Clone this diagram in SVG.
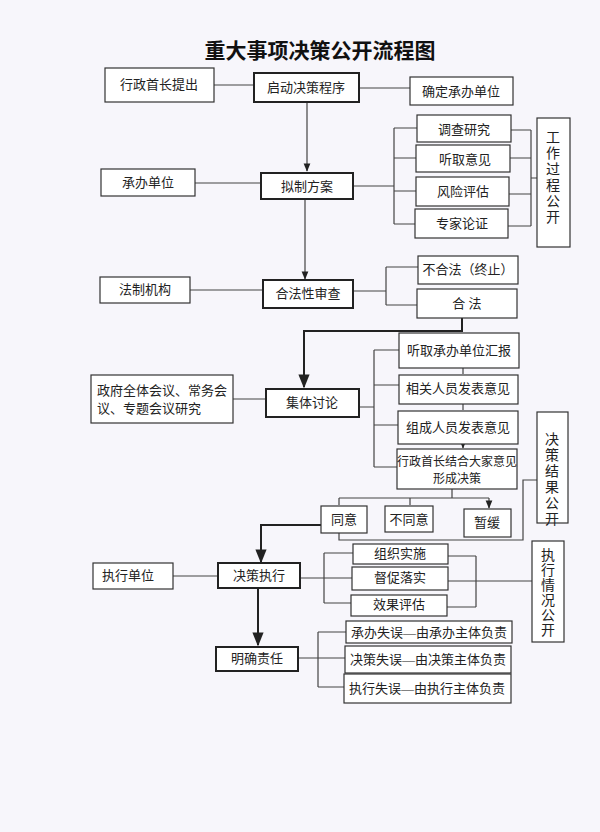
<svg xmlns="http://www.w3.org/2000/svg" width="600" height="832" viewBox="0 0 600 832">
<defs>
<style>
.b{fill:#fff;stroke:#333;stroke-width:1.2}
.k{fill:#fff;stroke:#222;stroke-width:2}
.t{font-family:"Liberation Serif","Noto Sans CJK SC",serif;font-size:13px;fill:#222;text-anchor:middle}
.s{font-family:"Liberation Serif","Noto Sans CJK SC",serif;font-size:12px;fill:#222;text-anchor:middle}
.v{font-family:"Liberation Serif","Noto Sans CJK SC",serif;font-size:14px;fill:#222;text-anchor:middle}
.l{fill:none;stroke:#444;stroke-width:1.2}
.h{fill:none;stroke:#222;stroke-width:2}
</style>
<marker id="a" viewBox="0 0 10 10" refX="9" refY="5" markerWidth="7" markerHeight="7" orient="auto"><path d="M0,1 L10,5 L0,9 z" fill="#222"/></marker>
</defs>
<rect width="600" height="832" fill="#f7f6fb"/>
<text x="320" y="58" font-family="'Noto Sans CJK SC',sans-serif" font-size="21" font-weight="bold" text-anchor="middle" fill="#111">重大事项决策公开流程图</text>
<g id="connectors">
<path class="l" d="M214,85 H254 M359,88 H410"/>
<path class="l" d="M307,102 V171" marker-end="url(#a)"/>
<path class="l" d="M195,183 H261 M353,186 H394 M394,128 V224 M394,128 H417 M394,158 H416 M394,191 H416 M394,224 H415"/>
<path class="l" d="M511,130 H531 M510,158 H531 M509,194 H531 M508,226 H531 M531,130 V226 M531,178 H537"/>
<path class="l" d="M305,199 V279" marker-end="url(#a)"/>
<path class="l" d="M190,290 H263 M353,291 H386 M386,267 V305 M386,267 H418 M386,305 H417"/>
<path class="h" d="M462,318 V331 H304 V387" marker-end="url(#a)"/>
<path class="l" d="M233,399 H266 M359,407 H374 M374,350 V467 M374,350 H399 M374,385 H399 M374,425 H398 M374,467 H397"/>
<path class="l" d="M463,368 V374 M463,404 V410 M463,444 V448" marker-end="url(#a)"/>
<path class="l" d="M452,489 V498 M339,498 H489"/>
<path class="l" d="M339,498 V505 M410,498 V505 M489,498 V508" marker-end="url(#a)"/>
<path class="l" d="M339,533 V540 H523 V480 H537"/>
<path class="h" d="M321,525 H261 V562" marker-end="url(#a)"/>
<path class="l" d="M173,576 H218 M300,578 H324 M324,553 V603 M324,553 H353 M324,578 H352 M324,603 H351 M448,556 H476 M447,607 H476 M476,556 V607 M448,581 H532"/>
<path class="h" d="M258,588 V645" marker-end="url(#a)"/>
<path class="l" d="M298,658 H345 M318,632 V687 M318,632 H346 M318,687 H344"/>
</g>
<g id="n1"><rect class="b" x="105" y="68" width="109" height="34"/><text class="t" x="159" y="89">行政首长提出</text></g>
<g id="n2"><rect class="k" x="254" y="73" width="105" height="29"/><text class="t" x="306" y="92">启动决策程序</text></g>
<g id="n3"><rect class="b" x="410" y="77" width="103" height="28"/><text class="t" x="461" y="96">确定承办单位</text></g>
<g id="n4"><rect class="b" x="101" y="169" width="94" height="27"/><text class="t" x="148" y="187">承办单位</text></g>
<g id="n5"><rect class="k" x="261" y="173" width="92" height="26"/><text class="t" x="307" y="191">拟制方案</text></g>
<g id="n6"><rect class="b" x="417" y="115" width="94" height="27"/><text class="t" x="464" y="134">调查研究</text></g>
<g id="n7"><rect class="b" x="416" y="145" width="94" height="27"/><text class="t" x="465" y="164">听取意见</text></g>
<g id="n8"><rect class="b" x="416" y="177" width="93" height="29"/><text class="t" x="463" y="196">风险评估</text></g>
<g id="n9"><rect class="b" x="415" y="209" width="93" height="29"/><text class="t" x="462" y="228">专家论证</text></g>
<g id="n10"><rect class="b" x="537" y="118" width="33" height="129"/><text class="v"><tspan x="553" y="142">工</tspan><tspan x="553" y="158">作</tspan><tspan x="553" y="174">过</tspan><tspan x="553" y="190">程</tspan><tspan x="553" y="206">公</tspan><tspan x="553" y="222">开</tspan></text></g>
<g id="n11"><rect class="b" x="100" y="277" width="90" height="26"/><text class="t" x="145" y="294">法制机构</text></g>
<g id="n12"><rect class="k" x="263" y="280" width="90" height="28"/><text class="t" x="308" y="298">合法性审查</text></g>
<g id="n13"><rect class="b" x="418" y="256" width="100" height="28"/><text class="t" x="468" y="274">不合法（终止）</text></g>
<g id="n14"><rect class="b" x="417" y="289" width="100" height="29"/><text class="t" x="467" y="308">合  法</text></g>
<g id="n15"><rect class="b" x="91" y="375" width="142" height="48"/><text class="t" style="text-anchor:start"><tspan x="97" y="395">政府全体会议、常务会</tspan><tspan x="97" y="413">议、专题会议研究</tspan></text></g>
<g id="n16"><rect class="k" x="266" y="389" width="93" height="28"/><text class="t" x="312" y="407">集体讨论</text></g>
<g id="n17"><rect class="b" x="399" y="333" width="120" height="35"/><text class="t" x="459" y="355">听取承办单位汇报</text></g>
<g id="n18"><rect class="b" x="399" y="375" width="119" height="29"/><text class="t" x="458" y="393">相关人员发表意见</text></g>
<g id="n19"><rect class="b" x="398" y="411" width="120" height="33"/><text class="t" x="458" y="432">组成人员发表意见</text></g>
<g id="n20"><rect class="b" x="397" y="449" width="120" height="40"/><text class="s"><tspan x="457" y="466">行政首长结合大家意见</tspan><tspan x="457" y="483">形成决策</tspan></text></g>
<g id="n21"><rect class="b" x="321" y="506" width="46" height="27"/><text class="t" x="344" y="524">同意</text></g>
<g id="n22"><rect class="b" x="385" y="506" width="48" height="26"/><text class="t" x="409" y="524">不同意</text></g>
<g id="n23"><rect class="b" x="464" y="509" width="47" height="28"/><text class="t" x="487" y="527">暂缓</text></g>
<g id="n24"><rect class="b" x="537" y="412" width="31" height="111"/><text class="v"><tspan x="552" y="444">决</tspan><tspan x="552" y="460">策</tspan><tspan x="552" y="476">结</tspan><tspan x="552" y="492">果</tspan><tspan x="552" y="508">公</tspan><tspan x="552" y="524">开</tspan></text></g>
<g id="n25"><rect class="b" x="93" y="563" width="80" height="26"/><text class="t" x="128" y="580">执行单位</text></g>
<g id="n26"><rect class="k" x="218" y="563" width="82" height="25"/><text class="t" x="259" y="580">决策执行</text></g>
<g id="n27"><rect class="b" x="353" y="544" width="95" height="20"/><text class="t" x="400" y="558">组织实施</text></g>
<g id="n28"><rect class="b" x="352" y="567" width="96" height="23"/><text class="t" x="400" y="582">督促落实</text></g>
<g id="n29"><rect class="b" x="351" y="595" width="96" height="21"/><text class="t" x="399" y="609">效果评估</text></g>
<g id="n30"><rect class="b" x="532" y="541" width="32" height="101"/><text class="v"><tspan x="548" y="560">执</tspan><tspan x="548" y="575">行</tspan><tspan x="548" y="590">情</tspan><tspan x="548" y="605">况</tspan><tspan x="548" y="620">公</tspan><tspan x="548" y="635">开</tspan></text></g>
<g id="n31"><rect class="k" x="216" y="647" width="82" height="24"/><text class="t" x="257" y="663">明确责任</text></g>
<g id="n32"><rect class="b" x="346" y="621" width="166" height="22"/><text class="t" x="429" y="637">承办失误—由承办主体负责</text></g>
<g id="n33"><rect class="b" x="345" y="646" width="166" height="27"/><text class="t" x="428" y="664">决策失误—由决策主体负责</text></g>
<g id="n34"><rect class="b" x="344" y="674" width="167" height="29"/><text class="t" x="427" y="693">执行失误—由执行主体负责</text></g>
</svg>
